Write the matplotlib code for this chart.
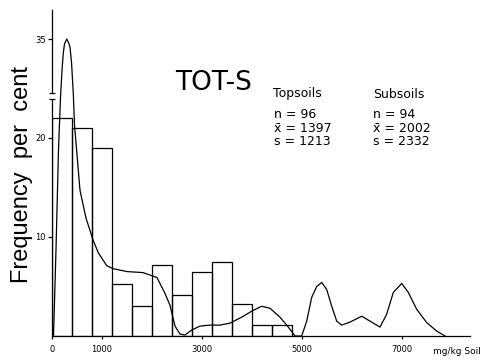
import numpy as np
import matplotlib
matplotlib.use("Agg")
import matplotlib.pyplot as plt

# ========= Data =========
# topsoils histogram, bins of 400 mg/kg
bin_edges = [0, 400, 800, 1200, 1600, 2000, 2400, 2800, 3200, 3600, 4000, 4400, 4800]
topsoil_freq = [22.0, 21.0, 19.0, 5.2, 3.0, 7.2, 4.1, 6.5, 7.5, 3.2, 1.1, 1.1]

# subsoils frequency curve
subsoil_x = [30, 80, 130, 170, 200, 226, 250, 294, 330, 360, 390, 426, 450, 510,
             560, 680, 820, 926, 1094, 1220, 1500, 1820, 2100, 2260, 2360, 2460,
             2560, 2660, 2794, 2960, 3160, 3360, 3560, 3794, 4026, 4194, 4360,
             4560, 4726, 4860, 4994, 5094, 5194, 5294, 5394, 5494, 5594, 5694,
             5794, 5960, 6194, 6360, 6560, 6694, 6826, 6994, 7126, 7294, 7494,
             7694, 7860]
subsoil_y = [0, 8.7, 18.8, 24.1, 29.2, 32.4, 34.1, 35.0, 34.4, 33.5, 30.7, 24.9, 21.3, 17.7,
             14.7, 11.9, 9.7, 8.4, 7.1, 6.8, 6.5, 6.4, 5.9, 4.3, 3.1, 1.0,
             0.2, 0.1, 0.6, 1.0, 1.1, 1.1, 1.3, 1.9, 2.6, 3.0, 2.8,
             1.9, 0.9, 0.0, 0.0, 1.5, 3.9, 5.0, 5.4, 4.7, 3.0, 1.5,
             1.1, 1.4, 2.0, 1.5, 0.9, 2.2, 4.4, 5.3, 4.4, 2.7, 1.35,
             0.5, 0.0]

x_ticks = [0, 1000, 3000, 5000, 7000]
y_ticks = [10, 20, 35]

top_stats = ["n = 96", "x\u0304 = 1397", "s = 1213"]
sub_stats = ["n = 94", "x\u0304 = 2002", "s = 2332"]

# ========= Broken y axis: compress everything above 24 =========
BREAK = 24.0
K = 0.5427


def fwd(y):
    y = np.asarray(y, dtype=float)
    return np.where(y <= BREAK, y, BREAK + (y - BREAK) * K)


def inv(t):
    t = np.asarray(t, dtype=float)
    return np.where(t <= BREAK, t, BREAK + (t - BREAK) / K)


# ========= Plot =========
W, H = 487, 360
fig = plt.figure(figsize=(W / 100, H / 100), dpi=100)
ax = fig.add_axes([52 / W, 24 / H, 418 / W, 326 / H])
ax.set_yscale("function", functions=(fwd, inv))
ax.set_xlim(0, 8360)
ax.set_ylim(0, 40.4)

lw = 0.9
widths = np.diff(bin_edges)
ax.bar(bin_edges[:-1], topsoil_freq, width=widths, align="edge",
       fill=False, edgecolor="black", linewidth=lw)
ax.plot(subsoil_x, subsoil_y, color="black", linewidth=lw, solid_joinstyle="round")

# spines
for s in ["top", "right"]:
    ax.spines[s].set_visible(False)
ax.spines["left"].set_bounds(0, 23.9)
ax.spines["left"].set_linewidth(lw)
ax.spines["bottom"].set_linewidth(lw)
yt = ax.get_yaxis_transform()
ax.plot([0, 0], [24.95, 40.4], color="black", linewidth=lw, transform=yt, clip_on=False)
ax.plot([0, 0], [23.9, 24.95], linestyle="none", marker="_", markersize=5,
        color="black", markeredgewidth=lw, transform=yt, clip_on=False)

ax.set_xticks(x_ticks)
ax.set_xticklabels([str(v) for v in x_ticks])
ax.set_yticks(y_ticks)
ax.set_yticklabels([str(v) for v in y_ticks])
ax.yaxis.set_minor_locator(matplotlib.ticker.NullLocator())
ax.tick_params(axis="x", length=2.5, width=lw, pad=4, labelsize=6)
ax.tick_params(axis="y", length=3, width=lw, pad=1.5, labelsize=6)

# labels
fig.text(22 / W, 1 - 174.5 / H, "Frequency  per  cent", rotation=90,
         ha="center", va="center", fontsize=17,
         family=["Liberation Sans", "DejaVu Sans"])
fig.text(433 / W, 1 - 351 / H, "mg/kg Soil", ha="left", va="center", fontsize=6.5)

fig.text(175 / W, 1 - 83 / H, "TOT-S", ha="left", va="center", fontsize=19)
fig.text(273 / W, 1 - 93 / H, "Topsoils", ha="left", va="center", fontsize=9)
fig.text(373 / W, 1 - 95 / H, "Subsoils", ha="left", va="center", fontsize=9)
for i, (a, b) in enumerate(zip(top_stats, sub_stats)):
    y = 1 - (115 + 13.5 * i) / H
    fig.text(274 / W, y, a, ha="left", va="center", fontsize=9)
    fig.text(373 / W, y, b, ha="left", va="center", fontsize=9)

fig.savefig("out.png", dpi=100)
